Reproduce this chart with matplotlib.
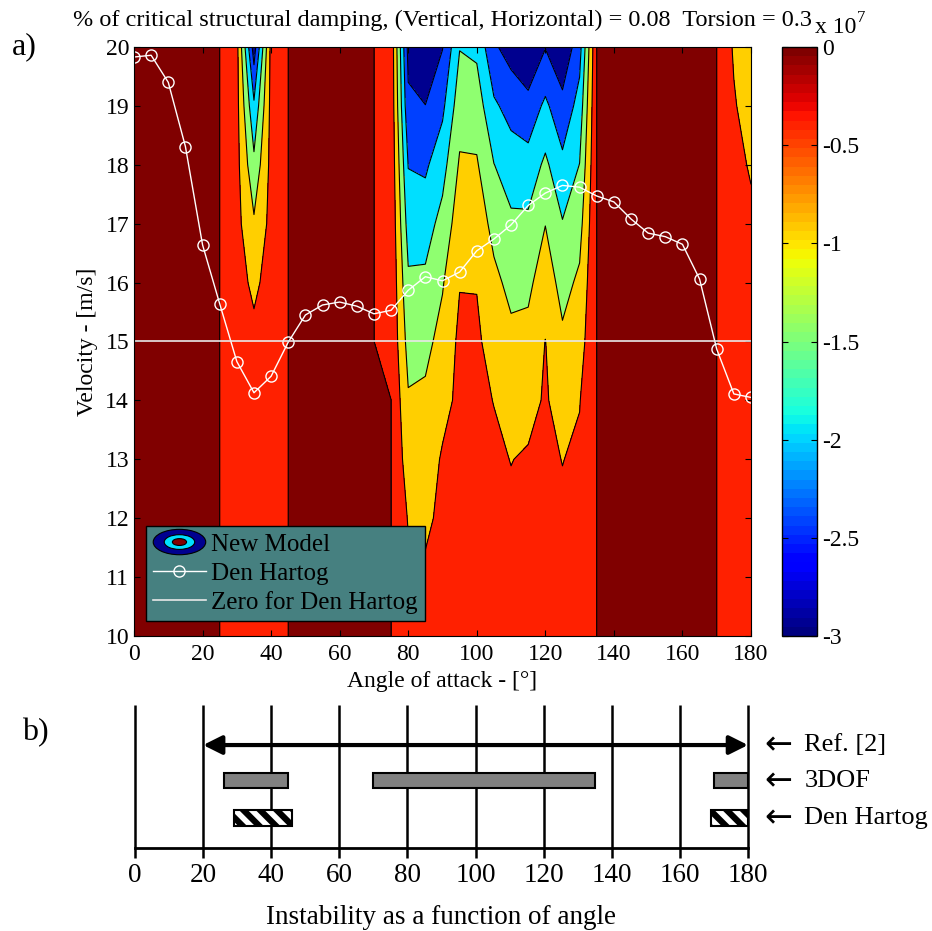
import numpy as np
import matplotlib
matplotlib.use('Agg')
import matplotlib.pyplot as plt
from matplotlib.colors import Normalize
from matplotlib.cm import ScalarMappable
from matplotlib.patches import Ellipse, Patch
from matplotlib.legend_handler import HandlerBase

plt.rcParams['font.family'] = ['Liberation Serif', 'DejaVu Serif']
plt.rcParams['axes.unicode_minus'] = False
plt.rcParams['hatch.linewidth'] = 4.5

# grid of the contour plot: angle of attack [deg] x velocity [m/s]
angles = np.arange(0, 181, 5)
velocities = np.arange(10, 21, 1)

# aerodynamic damping (x 1e7), one row per velocity 10..20 m/s, one column per angle 0..180
damping_e7 = [
    [0, 0, 0, 0, 0, 0, -0.35, -0.30, -0.35, 0, 0, 0, 0, 0, 0,
     0.00, -0.40, -0.40, -0.30, -0.30, -0.30, -0.30, -0.30, -0.30, -0.30, -0.30, -0.30,
     0, 0, 0, 0, 0, 0, 0, 0, -0.30, -0.30],
    [0, 0, 0, 0, 0, 0, -0.35, -0.30, -0.35, 0, 0, 0, 0, 0, 0,
     0.00, -0.42, -0.44, -0.35, -0.32, -0.32, -0.33, -0.35, -0.35, -0.33, -0.35, -0.34,
     0, 0, 0, 0, 0, 0, 0, 0, -0.30, -0.30],
    [0, 0, 0, 0, 0, 0, -0.35, -0.30, -0.35, 0, 0, 0, 0, 0, 0,
     0.00, -0.53, -0.57, -0.42, -0.35, -0.35, -0.37, -0.42, -0.40, -0.36, -0.42, -0.38,
     0, 0, 0, 0, 0, 0, 0, 0, -0.30, -0.30],
    [0, 0, 0, 0, 0, 0, -0.35, -0.30, -0.35, 0, 0, 0, 0, 0, 0,
     0.00, -0.75, -0.74, -0.45, -0.38, -0.38, -0.42, -0.51, -0.45, -0.40, -0.51, -0.42,
     0, 0, 0, 0, 0, 0, 0, 0, -0.30, -0.30],
    [0, 0, 0, 0, 0, 0, -0.35, -0.30, -0.35, 0, 0, 0, 0, 0, 0,
     0.00, -0.95, -0.91, -0.64, -0.40, -0.40, -0.51, -0.70, -0.65, -0.45, -0.70, -0.52,
     0, 0, 0, 0, 0, 0, 0, 0, -0.30, -0.30],
    [0, 0, 0, 0, 0, 0, -0.35, -0.40, -0.35, 0, 0, 0, 0, 0, 0,
     -0.08, -1.18, -1.13, -0.84, -0.40, -0.42, -0.70, -0.89, -0.86, -0.49, -0.91, -0.72,
     0, 0, 0, 0, 0, 0, 0, 0, -0.30, -0.30],
    [0, 0, 0, 0, 0, 0, -0.35, -0.58, -0.35, 0, 0, 0, 0, 0, 0,
     -0.08, -1.42, -1.40, -1.04, -0.52, -0.52, -0.89, -1.12, -1.10, -0.75, -1.16, -0.91,
     0, 0, 0, 0, 0, 0, 0, 0, -0.30, -0.30],
    [0, 0, 0, 0, 0, 0, -0.35, -0.93, -0.35, 0, 0, 0, 0, 0, 0,
     -0.10, -1.71, -1.72, -1.33, -0.73, -0.74, -1.14, -1.41, -1.40, -1.01, -1.47, -1.18,
     0, 0, 0, 0, 0, 0, 0, 0, -0.30, -0.40],
    [0, 0, 0, 0, 0, 0, -0.35, -1.38, -0.35, 0, 0, 0, 0, 0, 0,
     -0.12, -2.02, -2.08, -1.69, -0.94, -0.95, -1.49, -1.75, -1.81, -1.40, -1.88, -1.49,
     0, 0, 0, 0, 0, 0, 0, 0, -0.35, -0.55],
    [0, 0, 0, 0, 0, 0, -0.35, -1.92, -0.35, 0, 0, 0, 0, 0, 0,
     -0.14, -2.40, -2.49, -2.11, -1.21, -1.24, -1.92, -2.18, -2.32, -1.90, -2.35, -1.81,
     0, 0, 0, 0, 0, 0, 0, 0, -0.45, -0.75],
    [0, 0, 0, 0, 0, 0, -0.35, -2.75, -0.35, 0, 0, 0, 0, 0, 0,
     -0.15, -2.65, -3.00, -2.52, -1.52, -1.60, -2.43, -2.70, -3.00, -2.52, -2.90, -2.20,
     0, 0, 0, 0, 0, 0, 0, 0, -0.56, -0.95],
]

# Den Hartog critical velocity for every angle
den_hartog = [19.83, 19.86, 19.40, 18.31, 16.64, 15.64, 14.66, 14.13, 14.41, 14.99,
              15.45, 15.62, 15.67, 15.60, 15.47, 15.53, 15.87, 16.10, 16.03, 16.18,
              16.54, 16.74, 16.98, 17.31, 17.52, 17.65, 17.62, 17.47, 17.37, 17.08,
              16.84, 16.78, 16.65, 16.06, 14.87, 14.11, 14.05]
zero_level = 15.0

levels = [-3.5, -2.5, -2.0, -1.5, -1.0, -0.5, -0.001, 1.0]
fill_colors = ['#00008F', '#0040FF', '#00DFFF', '#8FFF70', '#FFCF00', '#FF2000', '#800000']

angle_ticks = [0, 20, 40, 60, 80, 100, 120, 140, 160, 180]
velocity_ticks = [10, 11, 12, 13, 14, 15, 16, 17, 18, 19, 20]
cbar_ticks = [0, -0.5, -1, -1.5, -2, -2.5, -3]
cbar_labels = ['0', '-0.5', '-1', '-1.5', '-2', '-2.5', '-3']

# panel b) instability ranges
ref2_range = (20, 180)
dof3_ranges = [(26, 45), (70, 135), (170, 180)]
dh_ranges = [(29, 46), (169, 180)]
row_labels = ['Ref. [2]', '3DOF', 'Den Hartog']

title_text = '% of critical structural damping, (Vertical, Horizontal) = 0.08  Torsion = 0.3'


class ContourIcon(HandlerBase):
    def create_artists(self, legend, orig_handle, xdescent, ydescent, width, height, fontsize, trans):
        cx = width / 2 - xdescent
        cy = height / 2 - ydescent
        out = []
        for sc, col in [(1.0, '#00008F'), (0.58, '#00DFFF'), (0.27, '#800000')]:
            e = Ellipse((cx, cy), width * sc, height * 1.45 * sc, facecolor=col,
                        edgecolor='k', lw=0.8, transform=trans)
            out.append(e)
        return out


W, H = 932, 931
fig = plt.figure(figsize=(W / 100, H / 100), dpi=100)

# ---- panel a) ----
ax = fig.add_axes([134 / W, 1 - 636 / H, 617 / W, 589 / H])
Z = np.array(damping_e7)
ax.contourf(angles, velocities, Z, levels=levels, colors=fill_colors)
ax.contour(angles, velocities, Z, levels=levels[1:-1], colors='k', linewidths=0.8,
           linestyles='solid')
dh_line, = ax.plot(angles, den_hartog, '-o', color='white', mfc='none', mec='white',
                   ms=8, lw=1, mew=1)
zero_line = ax.axhline(zero_level, color='#E8E8E8', lw=1.2)

ax.set_xlim(0, 180)
ax.set_ylim(10, 20)
ax.set_xticks(angle_ticks)
ax.set_yticks(velocity_ticks)
ax.tick_params(direction='in', top=True, right=True, length=4, labelsize=17)
ax.tick_params(axis='x', pad=6)
ax.set_xlabel('Angle of attack - [\u00b0]', fontsize=17, labelpad=4)
ax.set_ylabel('Velocity - [m/s]', fontsize=17, labelpad=5)
ax.set_title(title_text, fontsize=17.5, pad=15)

model_handle = Patch(facecolor='#00008F')
leg = ax.legend([model_handle, dh_line, zero_line],
                ['New Model', 'Den Hartog', 'Zero for Den Hartog'],
                handler_map={model_handle: ContourIcon()},
                loc='lower left', bbox_to_anchor=(0.019, 0.025), borderaxespad=0,
                fancybox=False, framealpha=1, facecolor='#468080', edgecolor='k',
                fontsize=18, handlelength=2.1, handletextpad=0.2, labelspacing=0.25,
                borderpad=0.3)
leg.get_frame().set_linewidth(1.0)

cax = fig.add_axes([782 / W, 1 - 636 / H, 35 / W, 589 / H])
sm = ScalarMappable(norm=Normalize(-3, 0), cmap=matplotlib.colormaps['jet'].resampled(64))
cb = fig.colorbar(sm, cax=cax)
cb.set_ticks(cbar_ticks, labels=cbar_labels)
cax.tick_params(direction='in', left=True, right=True, length=4, labelsize=17, pad=4)
cb.outline.set_linewidth(1)
fig.text(815 / W, 1 - 33 / H, 'x 10', fontsize=17, va='baseline')
fig.text(857 / W, 1 - 22 / H, '7', fontsize=12, va='baseline')

fig.text(12 / W, 1 - 47 / H, 'a)', fontsize=23, va='center')
fig.text(22 / W, 1 - 733 / H, 'b)', fontsize=23, va='center')

# ---- panel b) ----
ax2 = fig.add_axes([135 / W, 1 - 848 / H, 613 / W, 143 / H])
ax2.set_xlim(0, 180)
ax2.set_ylim(0, 1)
for s in ['top', 'right', 'left']:
    ax2.spines[s].set_visible(False)
ax2.spines['bottom'].set_linewidth(2)
ax2.set_yticks([])
ax2.set_xticks(angle_ticks)
ax2.tick_params(axis='x', direction='out', length=7, width=1.8, labelsize=19.5, pad=4)
ax2.vlines(angle_ticks, 0, 1, colors='k', lw=1.8, clip_on=False)

row_y = [0.72, 0.47, 0.21]
ax2.annotate('', xy=(ref2_range[0], row_y[0]), xytext=(ref2_range[1], row_y[0]),
             arrowprops=dict(arrowstyle='<|-|>,head_length=0.8,head_width=0.4', lw=3,
                             color='k', shrinkA=0, shrinkB=0, mutation_scale=14))
ax2.barh([row_y[1]] * len(dof3_ranges), [b - a for a, b in dof3_ranges],
         left=[a for a, b in dof3_ranges], height=0.105, color='#808080',
         edgecolor='k', lw=1.5, zorder=3)
ax2.barh([row_y[2]] * len(dh_ranges), [b - a for a, b in dh_ranges],
         left=[a for a, b in dh_ranges], height=0.107, color='white',
         edgecolor='k', lw=1.5, hatch='\\\\', zorder=3)
for y, lab in zip(row_y, row_labels):
    ax2.text(184.8, y, '\u2190', fontsize=24, family='DejaVu Sans', va='center',
             clip_on=False)
    ax2.text(196.5, y, lab, fontsize=19, va='center', clip_on=False)
ax2.set_xlabel('Instability as a function of angle', fontsize=19.5, labelpad=12)

fig.savefig('out.png', dpi=100)
